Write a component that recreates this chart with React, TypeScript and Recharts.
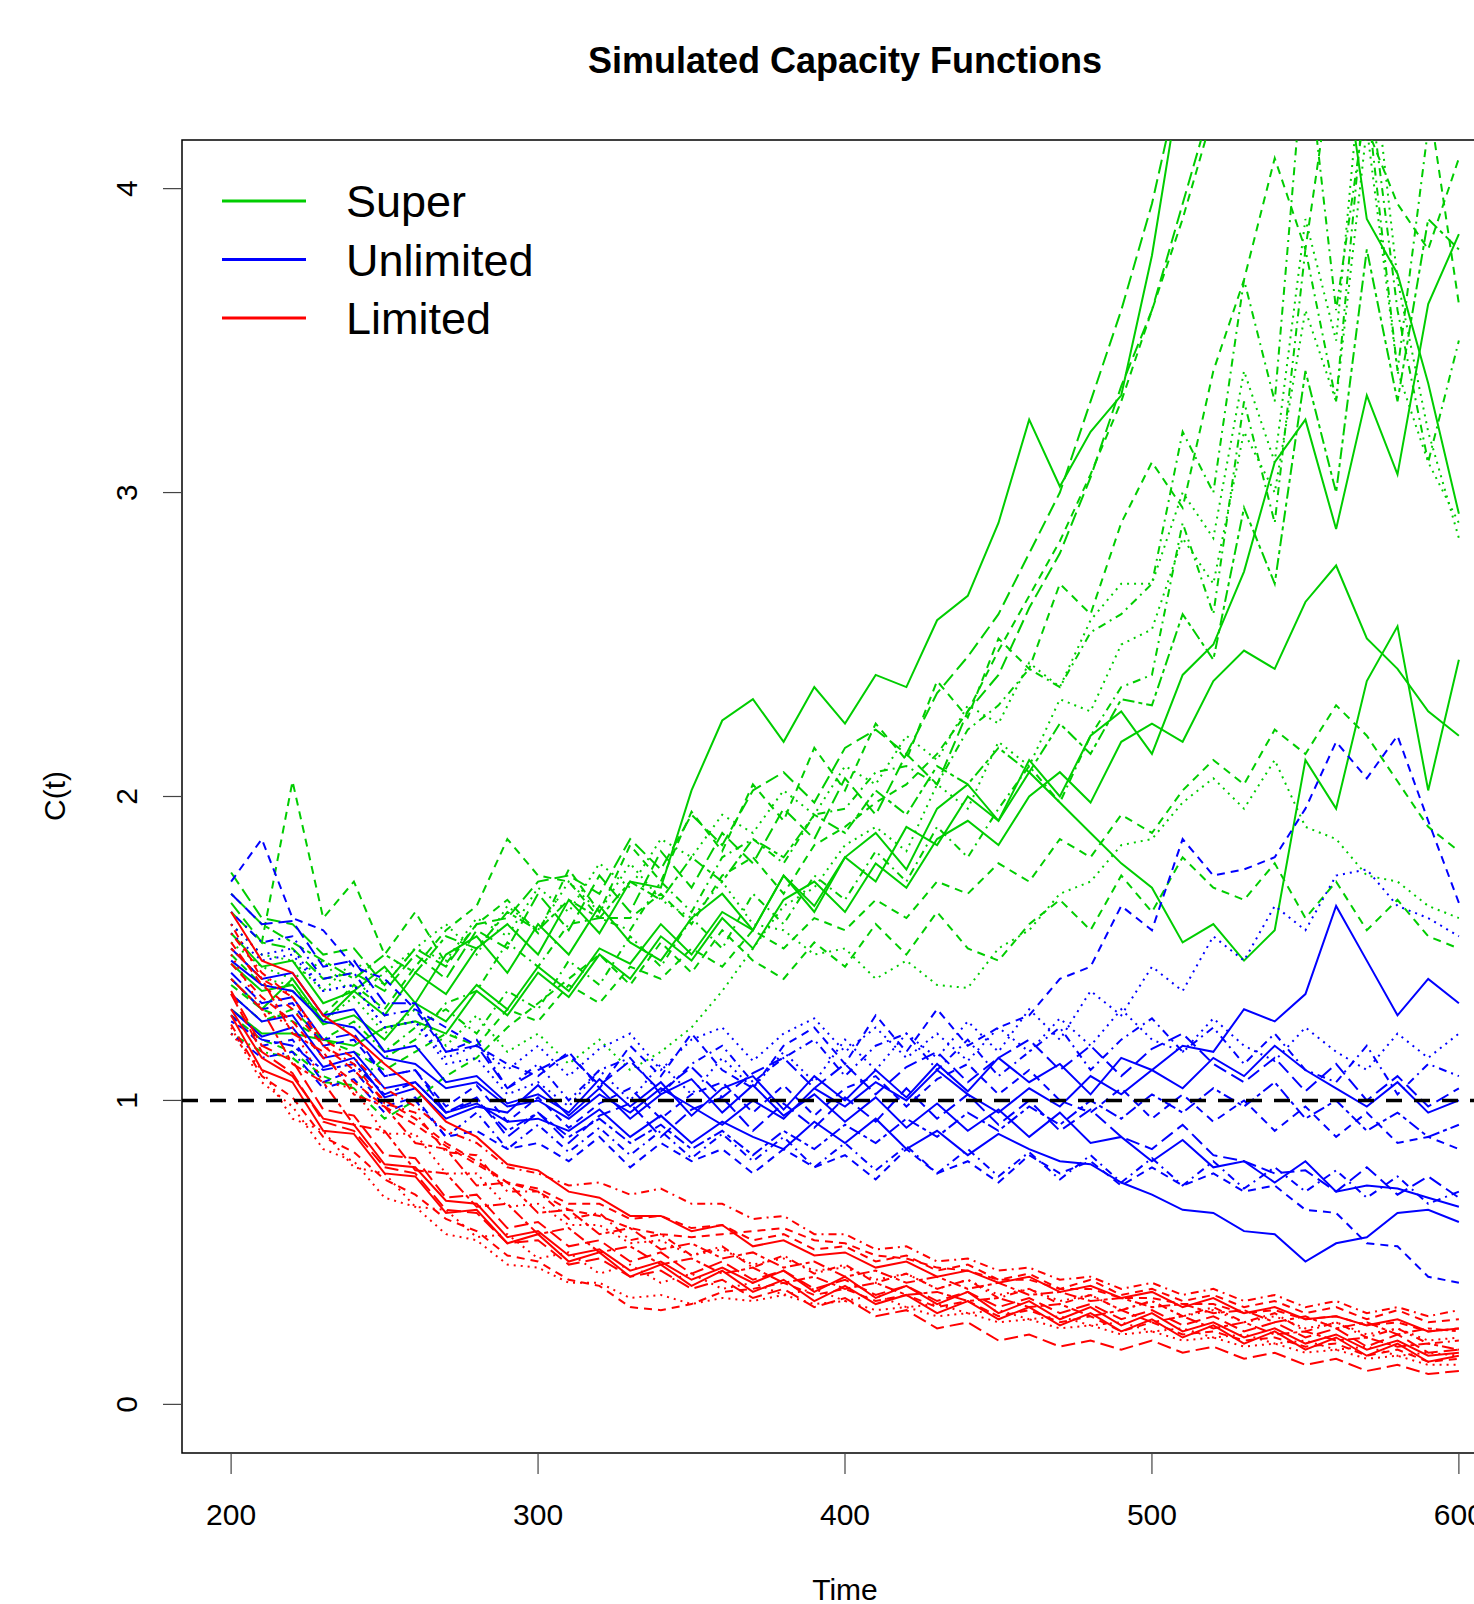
import { LineChart, Line, XAxis, YAxis, ReferenceLine, ReferenceArea } from "recharts";

// time grid (every 10 units)
const time = [
  200, 210, 220, 230, 240, 250, 260, 270, 280, 290,
  300, 310, 320, 330, 340, 350, 360, 370, 380, 390,
  400, 410, 420, 430, 440, 450, 460, 470, 480, 490,
  500, 510, 520, 530, 540, 550, 560, 570, 580, 590,
  600,
];

const xTicks = [200, 300, 400, 500, 600];
const yTicks = [0, 1, 2, 3, 4];
const legendLabels = ["Super", "Unlimited", "Limited"];

// Super capacity (green)
const g1 = [1.55,1.44,1.46,1.32,1.36,1.28,1.42,1.35,1.50,1.58, 1.48,1.66,1.55,1.72,1.70,2.02,2.25,2.32,2.18,2.36, 2.24,2.40,2.36,2.58,2.66,2.90,3.24,3.02,3.20,3.32, 3.78,4.40,4.80,4.60,5.00,5.30,4.60,3.90,3.72,3.36, 2.93];
const g2 = [1.45,1.36,1.38,1.25,1.28,1.20,1.32,1.26,1.38,1.30, 1.44,1.36,1.50,1.45,1.58,1.48,1.62,1.56,1.74,1.64, 1.80,1.72,1.90,1.84,2.00,1.92,2.08,1.98,1.88,1.78, 1.70,1.52,1.58,1.46,1.56,2.12,1.96,2.38,2.56,2.02, 2.45];
const g3 = [1.62,1.52,2.05,1.60,1.72,1.48,1.62,1.45,1.58,1.66, 1.55,1.76,1.62,1.84,1.72,1.95,1.82,2.04,1.92,2.16, 2.02,2.24,2.12,2.38,2.26,2.52,2.42,2.70,2.60,2.90, 3.10,2.95,3.40,3.70,4.10,3.80,4.50,4.20,4.80,4.30, 3.62];
const g4 = [1.50,1.40,1.38,1.26,1.34,1.22,1.30,1.18,1.28,1.16, 1.22,1.12,1.20,1.10,1.16,1.24,1.36,1.50,1.64,1.70, 1.84,1.90,1.82,2.04,1.96,2.18,2.10,2.32,2.28,2.50, 2.55,2.85,2.70,3.20,3.00,3.60,3.30,4.20,3.40,3.10, 2.90];
const g5 = [1.35,1.26,1.30,1.20,1.26,1.16,1.24,1.30,1.22,1.36, 1.30,1.46,1.38,1.54,1.44,1.60,1.50,1.68,1.58,1.74, 1.66,1.82,1.72,1.90,1.80,1.96,2.10,1.98,2.20,2.36, 2.40,2.90,2.60,3.30,2.90,3.80,3.30,4.40,3.60,3.10, 3.50];
const g6 = [1.65,1.52,1.50,1.40,1.42,1.36,1.48,1.40,1.56,1.50, 1.68,1.56,1.74,1.62,1.82,1.70,1.88,1.78,1.96,1.86, 2.06,1.94,2.14,2.04,2.28,2.40,2.62,2.80,3.05,3.35, 3.60,3.95,4.30,4.70,4.50,4.90,5.20,5.00,5.40,5.10, 5.50];
const g7 = [1.40,1.30,1.40,1.26,1.36,1.44,1.32,1.48,1.54,1.42, 1.58,1.48,1.64,1.52,1.46,1.60,1.68,1.56,1.74,1.62, 1.80,1.88,1.76,1.96,2.04,1.92,2.12,2.00,2.20,2.28, 2.14,2.40,2.50,2.74,3.10,3.24,2.88,3.32,3.06,3.62, 3.85];
const g8 = [1.28,1.20,1.16,1.08,1.04,0.94,1.00,1.08,1.14,1.24, 1.32,1.40,1.48,1.38,1.52,1.42,1.56,1.46,1.40,1.52, 1.44,1.58,1.48,1.62,1.50,1.46,1.58,1.66,1.56,1.74, 1.62,1.80,1.70,1.66,1.78,1.60,1.72,1.56,1.66,1.54, 1.50];
const g9 = [1.58,1.48,1.46,1.36,1.46,1.38,1.50,1.58,1.48,1.64, 1.56,1.72,1.62,1.78,1.66,1.60,1.72,1.58,1.56,1.48, 1.50,1.40,1.46,1.38,1.37,1.50,1.56,1.68,1.72,1.84, 1.86,1.98,2.06,1.96,2.12,1.90,1.86,1.74,1.72,1.64, 1.60];
const g10 = [1.22,1.16,1.14,1.06,1.05,1.14,1.20,1.32,1.36,1.52, 1.44,1.58,1.60,1.56,1.72,1.62,1.80,1.86,1.78,1.94, 1.96,2.08,2.10,2.04,2.22,2.30,2.42,2.36,2.54,2.60, 2.70,3.20,3.00,3.70,3.30,4.50,3.60,4.30,3.40,4.20, 4.60];
const g11 = [1.75,1.60,1.58,1.48,1.50,1.38,1.50,1.44,1.58,1.60, 1.72,1.74,1.68,1.86,1.76,1.94,1.84,2.02,2.08,1.98, 2.16,2.22,2.14,2.34,2.46,2.60,2.80,3.00,3.30,3.60, 3.95,4.40,4.80,5.00,4.60,5.00,5.20,5.40,5.10,5.50, 5.60];
const g12 = [1.30,1.22,1.22,1.20,1.18,1.24,1.26,1.22,1.36,1.28, 1.42,1.34,1.48,1.40,1.54,1.46,1.60,1.50,1.66,1.72, 1.62,1.78,1.70,1.86,1.92,1.84,2.00,2.08,1.98,2.18, 2.24,2.18,2.38,2.48,2.42,2.64,2.76,2.52,2.42,2.28, 2.20];
const g13 = [1.48,1.38,1.36,1.28,1.38,1.30,1.44,1.56,1.64,1.86, 1.74,1.72,1.60,1.60,1.68,1.58,1.74,1.80,1.68,1.84, 1.90,1.98,2.04,2.14,2.28,2.48,2.66,2.84,3.06,3.30, 3.60,3.90,4.25,4.60,4.30,4.70,4.40,4.20,3.95,3.80, 4.10];
const g14 = [1.68,1.58,1.52,1.46,1.40,1.48,1.42,1.54,1.50,1.62, 1.56,1.66,1.60,1.72,1.66,1.80,1.72,1.86,1.80,1.94, 1.88,2.02,1.94,2.10,2.04,2.16,2.08,2.24,2.14,2.32, 2.30,2.60,2.45,2.95,2.70,3.40,3.00,3.80,3.30,3.90, 3.80];
const g15 = [1.52,1.44,1.40,1.46,1.34,1.42,1.50,1.46,1.60,1.54, 1.70,1.62,1.78,1.70,1.86,1.80,1.94,1.88,2.02,1.94, 2.10,2.04,2.20,2.12,2.30,2.24,2.44,2.36,2.58,2.70, 2.70,3.00,2.85,3.40,3.10,3.90,3.50,4.60,3.70,3.20, 2.85];
const g16 = [1.38,1.30,1.26,1.20,1.16,1.10,1.16,1.22,1.18,1.30, 1.26,1.38,1.32,1.44,1.40,1.50,1.44,1.56,1.50,1.60, 1.56,1.66,1.60,1.72,1.68,1.78,1.72,1.86,1.80,1.94, 1.88,2.02,2.12,2.04,2.22,2.14,2.30,2.20,2.05,1.90, 1.82];

// Unlimited capacity (blue)
const b1 = [1.72,1.86,1.60,1.56,1.44,1.40,1.30,1.24,1.18,1.12, 1.08,1.16,1.04,1.18,1.08,1.22,1.10,1.04,1.18,1.24, 1.12,1.28,1.16,1.30,1.18,1.24,1.28,1.40,1.44,1.64, 1.56,1.86,1.74,1.76,1.80,1.96,2.18,2.06,2.20,1.92, 1.65];
const b2 = [1.55,1.46,1.48,1.36,1.38,1.24,1.26,1.12,1.14,1.02, 1.06,0.98,1.10,1.00,1.12,1.02,1.14,1.04,1.16,1.06, 1.20,1.10,1.22,1.14,1.26,1.16,1.30,1.20,1.36,1.28, 1.44,1.36,1.54,1.46,1.64,1.56,1.74,1.76,1.64,1.60, 1.54];
const b3 = [1.35,1.26,1.28,1.14,1.16,1.04,1.06,0.96,0.99,0.93, 0.94,0.90,0.97,0.88,0.95,0.86,0.93,0.88,0.84,0.93, 0.86,0.94,0.84,0.90,0.82,0.89,0.84,0.80,0.79,0.73, 0.69,0.64,0.63,0.57,0.56,0.47,0.53,0.55,0.63,0.64, 0.60];
const b4 = [1.50,1.40,1.42,1.28,1.30,1.16,1.18,1.06,1.08,0.99, 1.02,0.96,1.07,0.98,1.06,0.95,1.04,1.08,0.97,1.08, 1.00,1.10,1.01,1.12,1.03,1.14,1.06,1.12,1.02,1.14, 1.10,1.18,1.16,1.30,1.26,1.35,1.64,1.46,1.28,1.40, 1.32];
const b5 = [1.28,1.18,1.20,1.06,1.10,0.98,1.01,0.88,0.90,0.84, 0.86,0.80,0.88,0.78,0.86,0.80,0.84,0.76,0.84,0.78, 0.82,0.74,0.84,0.76,0.80,0.73,0.82,0.76,0.80,0.72, 0.78,0.72,0.76,0.70,0.72,0.64,0.63,0.53,0.52,0.42, 0.40];
const b6 = [1.62,1.52,1.54,1.40,1.42,1.28,1.30,1.16,1.20,1.04, 1.12,1.00,1.10,1.14,1.02,1.12,1.18,1.06,1.14,1.20, 1.08,1.18,1.22,1.10,1.20,1.08,1.16,1.24,1.10,1.20, 1.27,1.16,1.24,1.12,1.22,1.10,1.06,1.18,1.02,1.12, 1.08];
const b7 = [1.42,1.32,1.34,1.20,1.22,1.08,1.10,0.96,1.01,0.88, 0.96,0.86,0.95,0.99,0.88,0.97,1.01,0.90,0.99,0.91, 1.01,0.93,1.04,0.94,1.02,0.92,1.00,0.90,0.97,0.88, 0.84,0.92,0.82,0.80,0.76,0.77,0.70,0.78,0.69,0.75, 0.68];
const b8 = [1.30,1.21,1.24,1.11,1.14,1.01,1.04,0.94,0.98,0.96, 1.05,0.95,1.04,0.94,1.02,1.07,0.96,1.05,0.95,1.02, 0.93,1.01,0.91,0.99,0.90,0.97,0.88,0.96,0.86,0.88, 0.80,0.87,0.78,0.80,0.73,0.80,0.70,0.72,0.71,0.68, 0.65];
const b9 = [1.58,1.48,1.50,1.36,1.38,1.24,1.26,1.14,1.18,1.10, 1.18,1.08,1.17,1.22,1.10,1.20,1.24,1.13,1.22,1.27, 1.16,1.24,1.14,1.22,1.13,1.24,1.16,1.27,1.18,1.30, 1.20,1.16,1.27,1.18,1.13,1.24,1.16,1.10,1.22,1.14, 1.22];
const b10 = [1.40,1.30,1.32,1.18,1.20,1.08,1.10,0.98,1.05,0.93, 1.01,0.91,0.99,1.04,0.94,1.02,1.06,0.96,1.05,0.95, 1.04,1.08,0.98,1.07,1.12,1.02,1.10,1.00,0.96,1.04, 0.94,1.02,0.93,1.00,0.90,0.98,0.88,0.96,0.86,0.88, 0.84];
const b11 = [1.22,1.14,1.16,1.04,1.07,0.96,1.00,0.88,0.96,0.84, 0.92,0.83,0.91,0.82,0.90,0.81,0.89,0.80,0.88,0.78, 0.86,0.77,0.85,0.76,0.84,0.75,0.83,0.74,0.82,0.73, 0.81,0.72,0.80,0.71,0.78,0.70,0.77,0.68,0.75,0.66, 0.70];
const b12 = [1.68,1.58,1.59,1.44,1.46,1.32,1.32,1.16,1.18,1.04, 1.10,1.15,1.05,1.13,1.03,1.11,1.01,1.09,1.14,1.04, 1.12,1.02,1.11,1.16,1.06,1.14,1.20,1.10,1.18,1.08, 1.17,1.22,1.12,1.06,1.14,1.03,1.12,1.00,1.08,0.98, 1.04];
const b13 = [1.46,1.38,1.36,1.26,1.24,1.14,1.12,1.04,1.06,0.98, 1.00,0.94,1.02,0.96,1.04,0.98,0.92,1.00,0.94,1.04, 0.98,1.06,1.00,1.10,1.02,0.96,1.04,0.98,1.08,1.02, 1.10,1.04,1.14,1.08,1.18,1.10,1.04,0.98,1.06,0.96, 1.00];
const b14 = [1.26,1.20,1.18,1.10,1.12,1.02,1.06,0.96,1.00,0.90, 0.96,0.88,0.94,0.86,0.92,0.84,0.90,0.82,0.90,0.84, 0.92,0.86,0.94,0.88,0.96,0.90,0.98,0.92,1.00,0.94, 1.02,0.96,1.04,0.98,1.06,0.94,1.00,0.90,0.96,0.88, 0.92];

// Limited capacity (red)
const r1 = [1.62,1.46,1.42,1.28,1.21,1.12,1.04,0.93,0.88,0.79, 0.77,0.70,0.68,0.62,0.62,0.57,0.59,0.52,0.54,0.49, 0.50,0.45,0.47,0.42,0.44,0.40,0.42,0.37,0.39,0.35, 0.37,0.32,0.35,0.30,0.32,0.28,0.29,0.26,0.28,0.24, 0.25];
const r2 = [1.25,1.08,1.01,0.88,0.83,0.74,0.69,0.61,0.57,0.49, 0.47,0.41,0.39,0.32,0.31,0.33,0.37,0.38,0.40,0.36, 0.38,0.34,0.36,0.32,0.34,0.29,0.31,0.27,0.29,0.24, 0.27,0.23,0.24,0.21,0.22,0.19,0.20,0.16,0.18,0.14, 0.15];
const r3 = [1.48,1.30,1.24,1.06,1.04,0.89,0.89,0.76,0.76,0.65, 0.66,0.59,0.59,0.53,0.54,0.49,0.51,0.46,0.48,0.44, 0.45,0.41,0.43,0.38,0.41,0.36,0.38,0.34,0.36,0.31, 0.34,0.29,0.31,0.27,0.29,0.25,0.27,0.23,0.25,0.21, 0.22];
const r4 = [1.55,1.42,1.34,1.20,1.14,1.04,0.98,0.90,0.86,0.78, 0.76,0.72,0.73,0.69,0.71,0.66,0.66,0.61,0.62,0.56, 0.56,0.51,0.52,0.47,0.48,0.44,0.45,0.41,0.42,0.38, 0.40,0.36,0.38,0.34,0.36,0.32,0.34,0.30,0.32,0.29, 0.31];
const r5 = [1.35,1.16,1.09,0.93,0.90,0.78,0.76,0.64,0.63,0.53, 0.54,0.46,0.48,0.42,0.44,0.38,0.41,0.35,0.38,0.32, 0.35,0.29,0.31,0.25,0.27,0.21,0.23,0.19,0.21,0.18, 0.21,0.17,0.19,0.15,0.17,0.13,0.15,0.11,0.13,0.10, 0.11];
const r6 = [1.40,1.30,1.12,1.06,0.92,0.90,0.77,0.76,0.65,0.66, 0.56,0.58,0.50,0.52,0.46,0.48,0.43,0.45,0.40,0.42, 0.38,0.40,0.36,0.37,0.34,0.35,0.32,0.33,0.29,0.31, 0.27,0.29,0.25,0.27,0.23,0.24,0.21,0.22,0.19,0.20, 0.18];
const r7 = [1.30,1.14,1.08,0.94,0.92,0.79,0.78,0.67,0.66,0.55, 0.57,0.49,0.51,0.44,0.47,0.41,0.45,0.40,0.44,0.37, 0.42,0.35,0.39,0.33,0.37,0.30,0.34,0.28,0.32,0.26, 0.30,0.24,0.27,0.22,0.25,0.20,0.23,0.18,0.21,0.16, 0.17];
const r8 = [1.45,1.34,1.26,1.14,1.06,0.98,0.92,0.85,0.79,0.73, 0.71,0.66,0.66,0.61,0.62,0.58,0.59,0.54,0.56,0.51, 0.52,0.47,0.49,0.44,0.46,0.41,0.43,0.38,0.41,0.36, 0.38,0.34,0.36,0.32,0.34,0.30,0.32,0.28,0.31,0.27, 0.28];
const r9 = [1.22,1.10,0.94,0.90,0.78,0.76,0.65,0.64,0.55,0.56, 0.48,0.50,0.43,0.46,0.40,0.43,0.38,0.40,0.36,0.38, 0.34,0.36,0.32,0.33,0.30,0.31,0.28,0.29,0.26,0.27, 0.24,0.25,0.22,0.23,0.20,0.21,0.18,0.19,0.16,0.17, 0.16];
const r10 = [1.58,1.40,1.34,1.18,1.12,0.99,0.96,0.83,0.82,0.70, 0.70,0.61,0.63,0.54,0.56,0.49,0.52,0.45,0.49,0.43, 0.46,0.40,0.43,0.38,0.41,0.35,0.38,0.33,0.36,0.31, 0.34,0.29,0.32,0.27,0.30,0.24,0.27,0.22,0.25,0.20, 0.21];
const r11 = [1.36,1.18,1.13,0.97,0.95,0.82,0.81,0.68,0.69,0.58, 0.60,0.52,0.54,0.47,0.50,0.43,0.47,0.41,0.44,0.38, 0.41,0.36,0.39,0.34,0.37,0.32,0.35,0.30,0.33,0.28, 0.31,0.26,0.29,0.24,0.27,0.22,0.25,0.19,0.23,0.17, 0.18];
const r12 = [1.50,1.40,1.22,1.16,1.02,0.98,0.86,0.84,0.72,0.73, 0.63,0.64,0.56,0.58,0.51,0.53,0.48,0.50,0.45,0.47, 0.42,0.44,0.40,0.42,0.38,0.40,0.36,0.37,0.34,0.35, 0.32,0.33,0.30,0.31,0.27,0.29,0.25,0.27,0.23,0.25, 0.24];
const r13 = [1.28,1.10,1.06,0.90,0.89,0.76,0.75,0.63,0.64,0.53, 0.56,0.47,0.50,0.42,0.46,0.39,0.44,0.37,0.41,0.34, 0.39,0.33,0.36,0.30,0.34,0.28,0.32,0.26,0.30,0.24, 0.28,0.22,0.26,0.20,0.24,0.18,0.22,0.16,0.20,0.14, 0.16];
const r14 = [1.52,1.38,1.30,1.18,1.10,1.00,0.94,0.86,0.80,0.73, 0.70,0.64,0.62,0.58,0.56,0.55,0.56,0.57,0.58,0.54, 0.53,0.49,0.48,0.45,0.44,0.41,0.41,0.38,0.38,0.35, 0.35,0.33,0.33,0.30,0.31,0.28,0.29,0.26,0.27,0.24, 0.25];
const r15 = [1.24,1.06,0.98,0.84,0.80,0.68,0.65,0.56,0.54,0.46, 0.45,0.40,0.40,0.35,0.36,0.33,0.35,0.34,0.36,0.33, 0.34,0.31,0.32,0.29,0.30,0.27,0.28,0.25,0.26,0.23, 0.24,0.21,0.22,0.19,0.20,0.17,0.18,0.15,0.16,0.13, 0.13];

const GREEN = "#00CD00";
const BLUE = "#0000FF";
const RED = "#FF0000";
const FONT = '"Liberation Sans", Arial, Helvetica, sans-serif';

// R line types at lwd 2
const LTY: Record<string, string | undefined> = {
  solid: undefined,
  dashed: "8 6",
  dotted: "2 5",
  dotdash: "2 5 8 5",
  longdash: "14 6",
  twodash: "4 4 12 4",
};

const series = [
  { key: "g1", data: g1, color: GREEN, lty: "solid" },
  { key: "g2", data: g2, color: GREEN, lty: "solid" },
  { key: "g3", data: g3, color: GREEN, lty: "dashed" },
  { key: "g4", data: g4, color: GREEN, lty: "dotted" },
  { key: "g5", data: g5, color: GREEN, lty: "dotdash" },
  { key: "g6", data: g6, color: GREEN, lty: "longdash" },
  { key: "g7", data: g7, color: GREEN, lty: "solid" },
  { key: "g8", data: g8, color: GREEN, lty: "dashed" },
  { key: "g9", data: g9, color: GREEN, lty: "dotted" },
  { key: "g10", data: g10, color: GREEN, lty: "dotdash" },
  { key: "g11", data: g11, color: GREEN, lty: "longdash" },
  { key: "g12", data: g12, color: GREEN, lty: "solid" },
  { key: "g13", data: g13, color: GREEN, lty: "dashed" },
  { key: "g14", data: g14, color: GREEN, lty: "twodash" },
  { key: "g15", data: g15, color: GREEN, lty: "dotted" },
  { key: "g16", data: g16, color: GREEN, lty: "dashed" },
  { key: "b1", data: b1, color: BLUE, lty: "dashed" },
  { key: "b2", data: b2, color: BLUE, lty: "dotted" },
  { key: "b3", data: b3, color: BLUE, lty: "solid" },
  { key: "b4", data: b4, color: BLUE, lty: "solid" },
  { key: "b5", data: b5, color: BLUE, lty: "dashed" },
  { key: "b6", data: b6, color: BLUE, lty: "dotdash" },
  { key: "b7", data: b7, color: BLUE, lty: "longdash" },
  { key: "b8", data: b8, color: BLUE, lty: "solid" },
  { key: "b9", data: b9, color: BLUE, lty: "dotted" },
  { key: "b10", data: b10, color: BLUE, lty: "dashed" },
  { key: "b11", data: b11, color: BLUE, lty: "dotdash" },
  { key: "b12", data: b12, color: BLUE, lty: "longdash" },
  { key: "b13", data: b13, color: BLUE, lty: "solid" },
  { key: "b14", data: b14, color: BLUE, lty: "twodash" },
  { key: "r1", data: r1, color: RED, lty: "solid" },
  { key: "r2", data: r2, color: RED, lty: "dashed" },
  { key: "r3", data: r3, color: RED, lty: "dotted" },
  { key: "r4", data: r4, color: RED, lty: "dotdash" },
  { key: "r5", data: r5, color: RED, lty: "longdash" },
  { key: "r6", data: r6, color: RED, lty: "twodash" },
  { key: "r7", data: r7, color: RED, lty: "solid" },
  { key: "r8", data: r8, color: RED, lty: "dashed" },
  { key: "r9", data: r9, color: RED, lty: "dotted" },
  { key: "r10", data: r10, color: RED, lty: "dotdash" },
  { key: "r11", data: r11, color: RED, lty: "longdash" },
  { key: "r12", data: r12, color: RED, lty: "twodash" },
  { key: "r13", data: r13, color: RED, lty: "solid" },
  { key: "r14", data: r14, color: RED, lty: "dashed" },
  { key: "r15", data: r15, color: RED, lty: "dotted" },
];

const legendColors = [GREEN, BLUE, RED];

const rows = time.map((t, i) => {
  const row: Record<string, number> = { t };
  series.forEach((s) => {
    row[s.key] = s.data[i];
  });
  return row;
});

function XTick(props: any) {
  return (
    <text x={props.x} y={1525} textAnchor="middle" fontSize={30} fontFamily={FONT} fill="#000">
      {props.payload.value}
    </text>
  );
}

function YTick(props: any) {
  const y = props.y;
  return (
    <text
      x={137}
      y={y}
      transform={`rotate(-90 137 ${y})`}
      textAnchor="middle"
      fontSize={30}
      fontFamily={FONT}
      fill="#000"
    >
      {props.payload.value}
    </text>
  );
}

export default function App() {
  return (
    <div
      style={{
        position: "absolute",
        left: 0,
        top: 0,
        width: 1474,
        height: 1604,
        overflow: "hidden",
        background: "#fff",
      }}
    >
      <LineChart
        width={1520}
        height={1604}
        data={rows}
        margin={{ top: 140, right: 12, bottom: 51, left: 0 }}
      >
        <XAxis
          dataKey="t"
          type="number"
          domain={[184, 616]}
          ticks={xTicks}
          allowDataOverflow
          axisLine={false}
          tickLine={{ stroke: "#444", strokeWidth: 1.2 }}
          tickSize={21}
          tick={XTick}
          height={100}
        />
        <YAxis
          type="number"
          domain={[-0.16, 4.16]}
          ticks={yTicks}
          allowDataOverflow
          axisLine={false}
          tickLine={{ stroke: "#444", strokeWidth: 1.2 }}
          tickSize={19}
          tick={YTick}
          width={182}
        />
        {series.map((s) => (
          <Line
            key={s.key}
            type="linear"
            dataKey={s.key}
            stroke={s.color}
            strokeWidth={2}
            strokeDasharray={LTY[s.lty]}
            dot={false}
            activeDot={false}
            isAnimationActive={false}
          />
        ))}
        <ReferenceLine y={1} stroke="#000" strokeWidth={3.5} strokeDasharray="16 12" />
        <ReferenceArea
          x1={184}
          x2={616}
          y1={-0.16}
          y2={4.16}
          fill="none"
          fillOpacity={0}
          stroke="#000"
          strokeWidth={1.5}
          ifOverflow="visible"
        />
      </LineChart>
      <svg
        width={1474}
        height={1604}
        style={{ position: "absolute", left: 0, top: 0, pointerEvents: "none" }}
        fontFamily={FONT}
      >
        <text x={845} y={73} textAnchor="middle" fontSize={36} fontWeight="bold" fill="#000">
          Simulated Capacity Functions
        </text>
        <text x={845} y={1600} textAnchor="middle" fontSize={30} fill="#000">
          Time
        </text>
        <text x={65} y={796} transform="rotate(-90 65 796)" textAnchor="middle" fontSize={30} fill="#000">
          C(t)
        </text>
        {legendLabels.map((label, i) => {
          const ly = 201 + i * 58.5;
          return (
            <g key={label}>
              <line x1={222} x2={306} y1={ly} y2={ly} stroke={legendColors[i]} strokeWidth={3} />
              <text x={346} y={ly + 16} fontSize={45} fill="#000">
                {label}
              </text>
            </g>
          );
        })}
      </svg>
    </div>
  );
}
